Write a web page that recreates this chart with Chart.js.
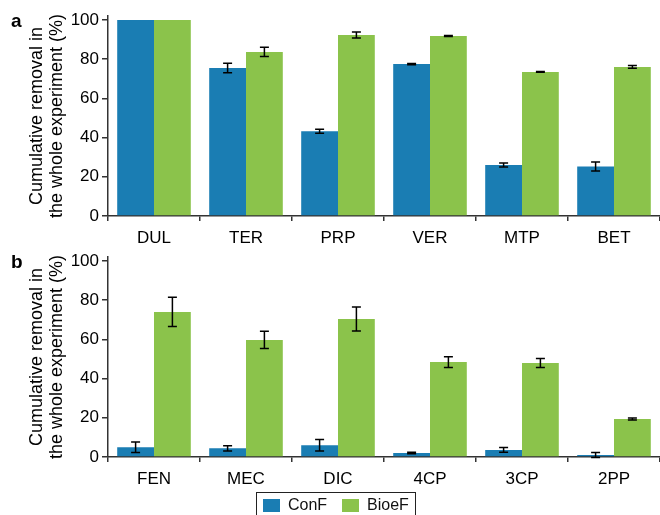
<!DOCTYPE html>
<html>
<head>
<meta charset="utf-8">
<script src="https://cdn.jsdelivr.net/npm/chart.js@4.4.1/dist/chart.umd.min.js"></script>
<style>
  body { margin: 0; background: #fff; font-family: "Liberation Sans", Arial, sans-serif; }
  #wrap { position: relative; width: 660px; height: 515px; overflow: hidden; }
  canvas { position: absolute; left: 0; }
  .panel { position: absolute; font-weight: bold; font-size: 19px; color: #000; }
  #legend { position: absolute; left: 256px; top: 492px; width: 160px; height: 28px;
            border: 1.5px solid #222; box-sizing: border-box; }
  .item { position: absolute; top: 4px; font-size: 16px; line-height: 16px; color: #111; }
  .box { position: absolute; width: 17px; height: 13px; }
</style>
</head>
<body>
<div id="wrap">
  <canvas id="chartA" width="660" height="250" style="top:0"></canvas>
  <canvas id="chartB" width="660" height="255" style="top:240px"></canvas>
  <div class="panel" style="left:11px; top:10px">a</div>
  <div class="panel" style="left:11px; top:251px">b</div>
  <div id="legend"></div>
</div>
<script>
const seriesNames = ["ConF", "BioeF"];
const seriesColors = ["#1a7db3", "#8bc34b"];

// panel a
const catsA = ["DUL", "TER", "PRP", "VER", "MTP", "BET"];
const conFA = [100, 75.5, 43.2, 77.5, 26, 25.3];
const conFErrA = [0, 2.4, 1, 0.3, 1, 2.3];
const bioeFA = [100, 83.7, 92.3, 91.8, 73.5, 76];
const bioeFErrA = [0, 2.3, 1.5, 0.3, 0.2, 0.7];

// panel b
const catsB = ["FEN", "MEC", "DIC", "4CP", "3CP", "2PP"];
const conFB = [5, 4.4, 6, 2, 3.6, 1];
const conFErrB = [2.7, 1.3, 2.9, 0.4, 1.2, 1.3];
const bioeFB = [74, 59.7, 70.4, 48.4, 47.9, 19.4];
const bioeFErrB = [7.5, 4.4, 6.1, 2.7, 2.3, 0.5];

const yTickValues = [0, 10, 20, 30, 40, 50, 60, 70, 80, 90, 100];

// error bars drawn from the y scale
const errorBars = {
    id: "errorBars",
    afterDatasetsDraw(chart) {
        const ctx = chart.ctx;
        const y = chart.scales.y;
        ctx.save();
        ctx.strokeStyle = "#000";
        ctx.lineWidth = 1.5;
        chart.data.datasets.forEach((ds, i) => {
            const meta = chart.getDatasetMeta(i);
            meta.data.forEach((bar, j) => {
                const err = ds.errors[j];
                if (!err) return;
                const top = y.getPixelForValue(ds.data[j] + err);
                const bot = y.getPixelForValue(ds.data[j] - err);
                const x = bar.x;
                ctx.beginPath();
                ctx.moveTo(x, top); ctx.lineTo(x, bot);
                ctx.moveTo(x - 4.5, top); ctx.lineTo(x + 4.5, top);
                ctx.moveTo(x - 4.5, bot); ctx.lineTo(x + 4.5, bot);
                ctx.stroke();
            });
        });
        ctx.restore();
    }
};

function makeChart(id, cats, conF, conFErr, bioeF, bioeFErr, topPad, bottomY, canvasH) {
    return new Chart(document.getElementById(id), {
        type: "bar",
        data: {
            labels: cats,
            datasets: [
                { label: seriesNames[0], data: conF, errors: conFErr, backgroundColor: seriesColors[0] },
                { label: seriesNames[1], data: bioeF, errors: bioeFErr, backgroundColor: seriesColors[1] }
            ]
        },
        options: {
            responsive: false,
            animation: false,
            events: [],
            layout: { padding: { top: topPad, right: 0, left: 0, bottom: 0 } },
            datasets: { bar: { barPercentage: 1, categoryPercentage: 0.8 } },
            plugins: { legend: { display: false }, tooltip: { enabled: false } },
            scales: {
                x: {
                    grid: { drawOnChartArea: false, drawTicks: true, tickLength: 5, color: "#333", lineWidth: 1.5 },
                    border: { display: true, color: "#333", width: 1.5 },
                    ticks: { color: "#000", font: { family: "Liberation Sans", size: 17 }, padding: 7, maxRotation: 0 },
                    afterFit: (s) => { s.height = canvasH - bottomY; }
                },
                y: {
                    min: 0,
                    max: 102,
                    afterBuildTicks: (s) => { s.ticks = yTickValues.map(v => ({ value: v })); },
                    grid: { drawOnChartArea: false, drawTicks: true, tickLength: 6, color: "#333", lineWidth: 1.5 },
                    border: { display: true, color: "#333", width: 1.5 },
                    ticks: {
                        color: "#000",
                        font: { family: "Liberation Sans", size: 17 },
                        padding: 3,
                        callback: (v) => (v % 20 === 0 ? v : "")
                    },
                    title: {
                        display: true,
                        text: ["Cumulative removal in", "the whole experiment (%)"],
                        color: "#000",
                        font: { family: "Liberation Sans", size: 18, lineHeight: 1.1 },
                        padding: { top: 27, bottom: 0 }
                    },
                    afterFit: (s) => { s.width = 108; }
                }
            }
        },
        plugins: [errorBars]
    });
}

makeChart("chartA", catsA, conFA, conFErrA, bioeFA, bioeFErrA, 16, 216, 250);
makeChart("chartB", catsB, conFB, conFErrB, bioeFB, bioeFErrB, 17, 217, 255);

// legend from the series arrays
const legend = document.getElementById("legend");
const boxLeft = [6, 85];
seriesNames.forEach((name, i) => {
    const b = document.createElement("div");
    b.className = "box";
    b.style.left = boxLeft[i] + "px";
    b.style.top = "6px";
    b.style.background = seriesColors[i];
    legend.appendChild(b);
    const t = document.createElement("div");
    t.className = "item";
    t.style.left = (boxLeft[i] + 25) + "px";
    t.textContent = name;
    legend.appendChild(t);
});
</script>
</body>
</html>
